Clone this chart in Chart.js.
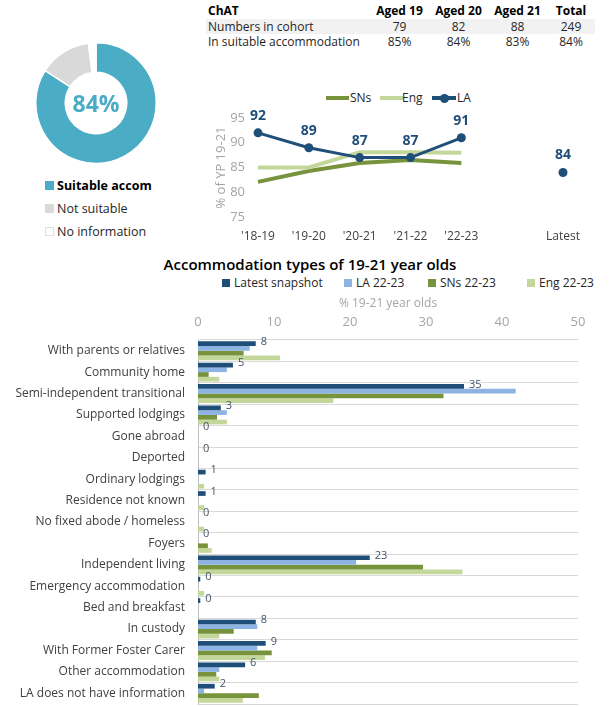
<!DOCTYPE html>
<html><head><meta charset="utf-8">
<script src="https://cdn.jsdelivr.net/npm/chart.js@4.4.0/dist/chart.umd.min.js"></script>
<style>
body{margin:0;width:613px;height:707px;position:relative;background:#fff;font-family:"Open Sans",sans-serif;color:#262626;overflow:hidden}
canvas{position:absolute}
#tbl{position:absolute;left:206px;top:3px;border-collapse:collapse;font-size:12px;line-height:15.5px;table-layout:fixed}
#tbl td{padding:0;white-space:nowrap;text-align:center}
#tbl td:first-child{text-align:left;padding-left:2px}
#tbl tr.hd td{font-weight:700;color:#000}
#tbl tr.band td{background:#F2F2F2}
.lg{position:absolute;font-size:12.5px;color:#262626;line-height:14px}
.sq{position:absolute;width:9px;height:9px}
#title{position:absolute;left:0;width:620px;top:254px;text-align:center;font-size:15px;font-weight:600;color:#000}
.bl{position:absolute;top:276px;font-size:12px;color:#262626;line-height:14px}
.bl span{display:inline-block;width:8px;height:8px;margin-right:4px;vertical-align:0px}
.ll{position:absolute;top:91px;font-size:12px;color:#262626;line-height:14px}
</style></head>
<body>
<table id="tbl"></table>
<canvas id="donut" width="122" height="122" style="left:35px;top:42px;width:122px;height:122px"></canvas>
<div id="donutLegend"></div>
<div id="lineLegend"></div>
<canvas id="line" width="410" height="165" style="left:200px;top:85px;width:410px;height:165px"></canvas>
<div id="title">Accommodation types of 19-21 year olds</div>
<div id="barLegend"></div>
<canvas id="bar" width="613" height="417" style="left:0;top:290px;width:613px;height:417px"></canvas>
<script>
// ---- data ----
const tableHeader = ["ChAT", "Aged 19", "Aged 20", "Aged 21", "Total"];
const cohortRowLabel = "Numbers in cohort";
const cohortNumbers = [79, 82, 88, 249];
const suitableRowLabel = "In suitable accommodation";
const suitablePct = ["85%", "84%", "83%", "84%"];

const donutLabels = ["Suitable accom", "Not suitable", "No information"];
const donutValues = [84, 14, 2];
const donutCentre = "84%";

const lineYears = ["'18-19", "'19-20", "'20-21", "'21-22", "'22-23", "", "Latest"];
const laTrend = [92, 89, 87, 87, 91, null, 84];
const snsTrend = [82.1, 84.3, 85.9, 86.5, 85.9, null, null];
const engTrend = [85, 85, 88.1, 88.1, 88, null, null];
const lineSeriesNames = ["SNs", "Eng", "LA"];

const accomTypes = ["With parents or relatives", "Community home", "Semi-independent transitional", "Supported lodgings", "Gone abroad", "Deported", "Ordinary lodgings", "Residence not known", "No fixed abode / homeless", "Foyers", "Independent living", "Emergency accommodation", "Bed and breakfast", "In custody", "With Former Foster Carer", "Other accommodation", "LA does not have information"];
const latestSnapshot = [7.6, 4.6, 35, 3.0, 0, 0, 1.0, 1.0, 0, 0, 22.6, 0.3, 0.3, 7.6, 8.9, 6.2, 2.2];
const la2223 = [6.8, 3.8, 41.8, 3.8, 0, 0, 0, 0, 0, 0, 20.8, 0, 0, 7.8, 7.8, 2.8, 0.8];
const sns2223 = [6.0, 1.4, 32.3, 2.5, 0, 0, 0, 0, 0, 1.3, 29.6, 0, 0, 4.7, 9.7, 2.4, 8.0];
const eng2223 = [10.8, 2.8, 17.8, 3.8, 0, 0, 0.8, 0.8, 0.8, 1.8, 34.8, 0.8, 0, 2.8, 8.8, 2.8, 5.9];
const barSeriesNames = ["Latest snapshot", "LA 22-23", "SNs 22-23", "Eng 22-23"];
const barAxisTitle = "% 19-21 year olds";
const barTicks = [0, 10, 20, 30, 40, 50];

// ---- colours ----
const NAVY = "#1F4E79", LBLUE = "#8DB4E2", GREEN = "#77933C", LGREEN = "#C4D79B", TEAL = "#4BACC6", GREY = "#D9D9D9";

// ---- table ----
(function(){
  const t = document.getElementById('tbl');
  const widths = [164, 59, 59, 59, 48];
  let cg = '<colgroup>' + widths.map(w => '<col style="width:' + w + 'px">').join('') + '</colgroup>';
  const row = (cls, cells) => '<tr class="' + cls + '">' + cells.map(c => '<td>' + c + '</td>').join('') + '</tr>';
  t.innerHTML = cg + row('hd', tableHeader) + row('band', [cohortRowLabel].concat(cohortNumbers)) + row('', [suitableRowLabel].concat(suitablePct));
})();

// ---- donut legend ----
(function(){
  const d = document.getElementById('donutLegend');
  const cols = [TEAL, GREY, "#FFFFFF"];
  const ys = [180, 203, 226];
  donutLabels.forEach((l, i) => {
    const sq = document.createElement('div');
    sq.className = 'sq';
    sq.style.left = '45px'; sq.style.top = (ys[i] + 1) + 'px';
    sq.style.background = cols[i];
    if (i === 2) { sq.style.border = '1px solid #E0E0E0'; sq.style.width = '7px'; sq.style.height = '7px'; }
    d.appendChild(sq);
    const tx = document.createElement('div');
    tx.className = 'lg';
    tx.style.left = '57px'; tx.style.top = (ys[i] - 1) + 'px';
    if (i === 0) { tx.style.fontWeight = '700'; tx.style.color = '#000'; }
    tx.textContent = l;
    d.appendChild(tx);
  });
})();

// ---- line legend ----
(function(){
  const d = document.getElementById('lineLegend');
  const cols = [GREEN, LGREEN, NAVY];
  const lineX = [326, 380, 432];
  const textX = [350, 402, 457];
  lineSeriesNames.forEach((n, i) => {
    const ln = document.createElement('div');
    ln.style.cssText = 'position:absolute;top:96px;height:4px;width:' + (i === 2 ? 24 : 23) + 'px;left:' + lineX[i] + 'px;background:' + cols[i];
    d.appendChild(ln);
    if (i === 2) {
      const dot = document.createElement('div');
      dot.style.cssText = 'position:absolute;top:93.5px;left:' + (lineX[i] + 8) + 'px;width:9px;height:9px;border-radius:50%;background:' + NAVY;
      d.appendChild(dot);
    }
    const tx = document.createElement('div');
    tx.className = 'll';
    tx.style.left = textX[i] + 'px';
    tx.textContent = n;
    d.appendChild(tx);
  });
})();

// ---- bar legend ----
(function(){
  const d = document.getElementById('barLegend');
  const cols = [NAVY, LBLUE, GREEN, LGREEN];
  const xs = [222, 344, 428, 527];
  barSeriesNames.forEach((n, i) => {
    const el = document.createElement('div');
    el.className = 'bl';
    el.style.left = xs[i] + 'px';
    el.innerHTML = '<span style="background:' + cols[i] + '"></span>' + n;
    d.appendChild(el);
  });
})();

Chart.defaults.font.family = '"Open Sans", sans-serif';
Chart.defaults.animation = false;

// ---- donut ----
new Chart(document.getElementById('donut'), {
  type: 'doughnut',
  data: { labels: donutLabels, datasets: [{ data: donutValues, backgroundColor: [TEAL, GREY, "#FFFFFF"], borderColor: "#FFFFFF", borderWidth: 1.5 }] },
  options: {
    responsive: false, cutout: '51%',
    plugins: { legend: { display: false }, tooltip: { enabled: false } }
  },
  plugins: [{
    id: 'centre',
    afterDraw(c) {
      const ctx = c.ctx, a = c.chartArea;
      ctx.save();
      ctx.font = '700 23px "Open Sans", sans-serif';
      ctx.fillStyle = TEAL; ctx.textAlign = 'center'; ctx.textBaseline = 'middle';
      ctx.fillText(donutCentre, (a.left + a.right) / 2, (a.top + a.bottom) / 2 + 2);
      ctx.restore();
    }
  }]
});

// ---- line ----
new Chart(document.getElementById('line'), {
  type: 'line',
  data: {
    labels: lineYears,
    datasets: [
      { label: 'LA', data: laTrend, borderColor: NAVY, backgroundColor: NAVY, borderWidth: 3, pointRadius: 4.5, pointBackgroundColor: NAVY, pointBorderWidth: 0, spanGaps: false, clip: false },
      { label: 'Eng', data: engTrend, borderColor: LGREEN, borderWidth: 4, pointRadius: 0, clip: false },
      { label: 'SNs', data: snsTrend, borderColor: GREEN, borderWidth: 4, pointRadius: 0, clip: false }
    ]
  },
  options: {
    responsive: false,
    layout: { padding: { top: 33, right: 47, left: 0, bottom: 0 } },
    plugins: { legend: { display: false }, tooltip: { enabled: false } },
    scales: {
      x: {
        offset: false,
        grid: { display: false, drawTicks: false }, border: { display: false },
        ticks: { color: '#404040', font: { size: 12 }, padding: 12, maxRotation: 0, autoSkip: false },
        afterFit(s) { s.height = 33; }
      },
      y: {
        min: 75, max: 95,
        grid: { display: false, drawTicks: false }, border: { display: false },
        ticks: { stepSize: 5, color: '#A5A5A5', font: { size: 13 }, padding: 13 },
        title: { display: true, text: '% of YP 19-21', color: '#A5A5A5', font: { size: 13 }, padding: { top: 13, bottom: 0 } },
        afterFit(s) { s.width = 58; }
      }
    }
  },
  plugins: [{
    id: 'laLabels',
    afterDatasetsDraw(c) {
      const ctx = c.ctx, meta = c.getDatasetMeta(0);
      ctx.save();
      ctx.font = '700 14px "Open Sans", sans-serif';
      ctx.fillStyle = NAVY; ctx.textAlign = 'center'; ctx.textBaseline = 'middle';
      meta.data.forEach((p, i) => {
        const v = laTrend[i];
        if (v === null) return;
        ctx.fillText(String(v), p.x, p.y - 17);
      });
      ctx.restore();
    }
  }]
});

// ---- bar ----
new Chart(document.getElementById('bar'), {
  type: 'bar',
  data: {
    labels: accomTypes,
    datasets: [
      { label: barSeriesNames[0], data: latestSnapshot, backgroundColor: NAVY },
      { label: barSeriesNames[1], data: la2223, backgroundColor: LBLUE },
      { label: barSeriesNames[2], data: sns2223, backgroundColor: GREEN },
      { label: barSeriesNames[3], data: eng2223, backgroundColor: LGREEN }
    ]
  },
  options: {
    indexAxis: 'y', responsive: false,
    datasets: { bar: { categoryPercentage: 0.88, barPercentage: 1.0 } },
    layout: { padding: { top: 0, right: 35, left: 0, bottom: 3 } },
    plugins: { legend: { display: false }, tooltip: { enabled: false } },
    scales: {
      x: {
        position: 'top', min: 0, max: 50,
        grid: { display: false, drawTicks: false }, border: { display: false },
        afterBuildTicks(s) { s.ticks = barTicks.map(v => ({ value: v })); },
        ticks: { color: '#A5A5A5', font: { size: 13 }, padding: 10 },
        title: { display: true, text: barAxisTitle, color: '#A5A5A5', font: { size: 12 }, padding: { top: 6, bottom: 0 } },
        afterFit(s) { s.height = 50; }
      },
      y: {
        grid: { offset: true, color: '#D9D9D9', drawTicks: false },
        border: { display: true, color: '#BFBFBF' },
        ticks: { color: '#404040', font: { size: 12 }, padding: 13, autoSkip: false },
        afterFit(s) { s.width = 198; s.paddingTop = 0; s.paddingBottom = 0; }
      }
    }
  },
  plugins: [{
    id: 'barLabels',
    afterDatasetsDraw(c) {
      const ctx = c.ctx, meta = c.getDatasetMeta(0);
      ctx.save();
      ctx.font = '11px "Open Sans", sans-serif';
      ctx.fillStyle = '#44546A'; ctx.textAlign = 'left'; ctx.textBaseline = 'middle';
      meta.data.forEach((b, i) => {
        ctx.fillText(String(Math.round(latestSnapshot[i])), b.x + 5, b.y - 2);
      });
      ctx.restore();
    }
  }]
});
</script>
</body></html>
